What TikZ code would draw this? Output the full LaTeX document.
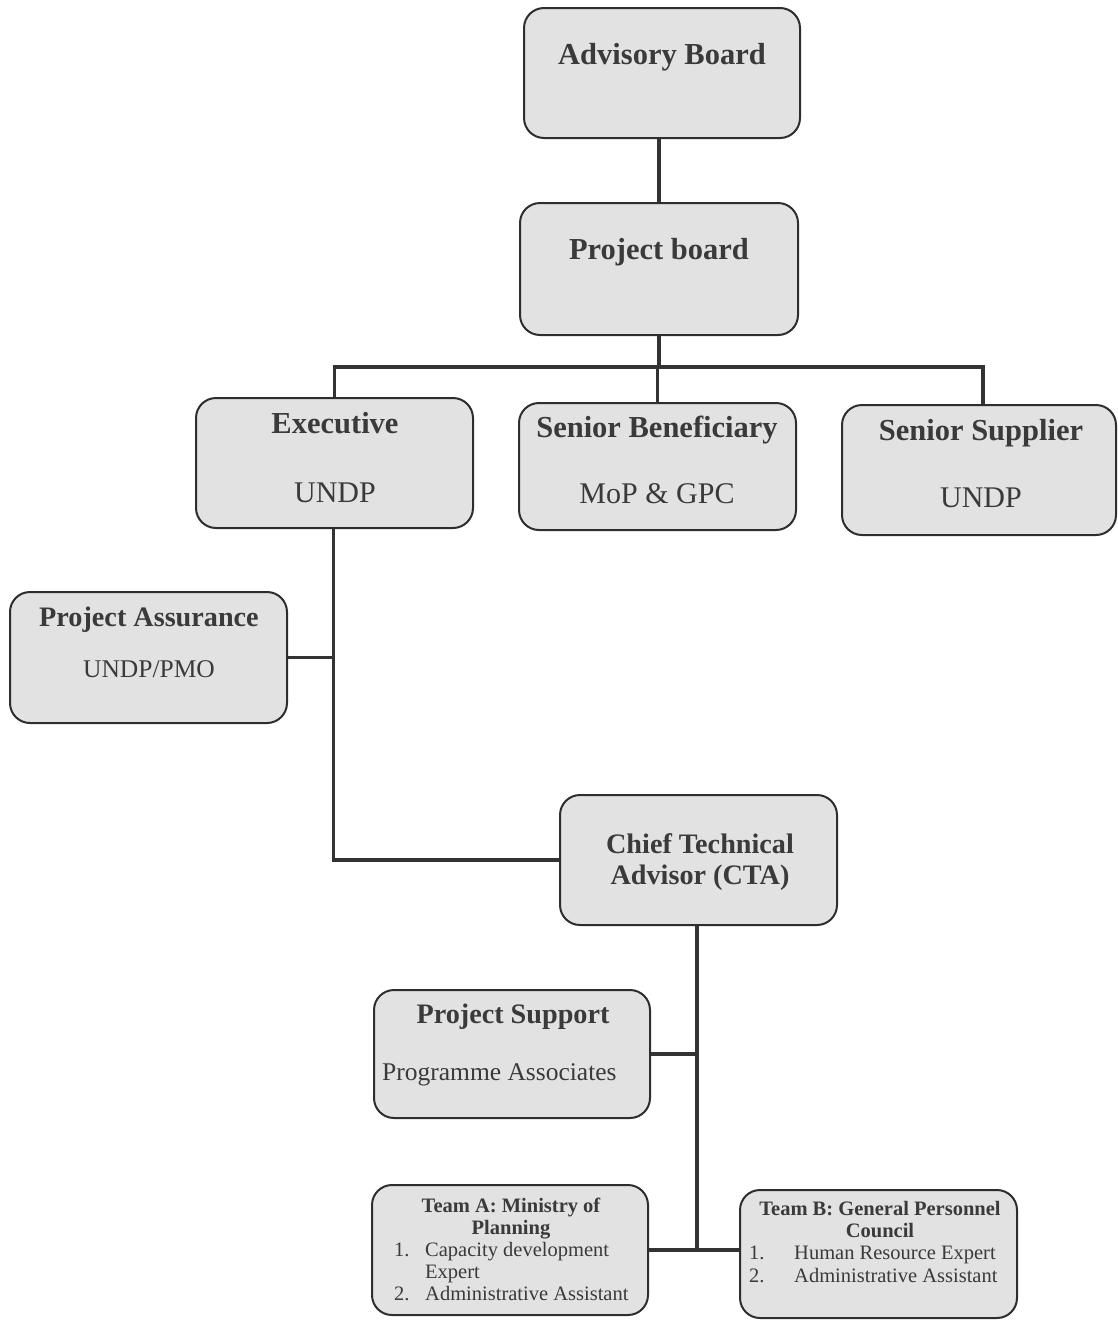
\documentclass[tikz,border=0pt]{standalone}
\usepackage{fontspec}
\setmainfont{Liberation Serif}
\definecolor{boxfill}{HTML}{E2E2E2}
\definecolor{boxline}{HTML}{2E2E2E}
\definecolor{txt}{HTML}{3A3A3A}
\definecolor{conn}{HTML}{333333}
\begin{document}
\begin{tikzpicture}[x=1pt,y=-1pt,
  box/.style={draw=boxline,fill=boxfill,line width=2pt,rounded corners=20pt,inner sep=0pt,rectangle},
  tbig/.style={font=\fontsize{30.5}{34}\selectfont\bfseries,text=txt,inner sep=0pt},
  rbig/.style={font=\fontsize{30}{34}\selectfont,text=txt,inner sep=0pt},
  tmid/.style={font=\fontsize{28.2}{32}\selectfont\bfseries,text=txt,inner sep=0pt},
  rmid/.style={font=\fontsize{25.5}{30}\selectfont,text=txt,inner sep=0pt},
  tsml/.style={font=\fontsize{20.5}{23}\selectfont\bfseries,text=txt,inner sep=0pt},
  rsml/.style={font=\fontsize{20.5}{23}\selectfont,text=txt,inner sep=0pt},
  link/.style={draw=conn,line width=3.5pt}]
\useasboundingbox (0,0) rectangle (1118,1320);

% boxes
\node[box,minimum width=276pt,minimum height=130pt] (adv) at (662,73) {};
\node[box,minimum width=278pt,minimum height=132pt] (pb) at (659,269) {};
\node[box,minimum width=277pt,minimum height=130pt] (exe) at (334.5,463) {};
\node[box,minimum width=277pt,minimum height=127pt] (ben) at (657.5,466.5) {};
\node[box,minimum width=274pt,minimum height=130pt] (sup) at (979,470) {};
\node[box,minimum width=277pt,minimum height=131pt] (pa) at (148.5,657.5) {};
\node[box,minimum width=277pt,minimum height=130pt] (cta) at (698.5,860) {};
\node[box,minimum width=276pt,minimum height=128pt] (ps) at (512,1054) {};
\node[box,minimum width=276pt,minimum height=130pt] (ta) at (510,1250) {};
\node[box,minimum width=277pt,minimum height=128pt] (tb) at (878.5,1254) {};

% texts
\node[tbig,anchor=base] (advT) at (662,64) {Advisory Board};
\node[tbig,anchor=base] (pbT) at (659,259) {Project board};
\node[tbig,anchor=base] (exeT) at (335,433) {Executive};
\node[rbig,anchor=base] (exeS) at (335,502) {UNDP};
\node[tbig,anchor=base] (benT) at (657,437) {Senior Beneficiary};
\node[rbig,anchor=base] (benS) at (657,503) {MoP \& GPC};
\node[tbig,anchor=base] (supT) at (981,440) {Senior Supplier};
\node[rbig,anchor=base] (supS) at (981,507) {UNDP};
\node[tmid,anchor=base] (paT) at (149,626) {Project Assurance};
\node[rmid,anchor=base] (paS) at (149,677) {UNDP/PMO};
\node[tmid,anchor=base] (ctaT1) at (700,853) {Chief Technical};
\node[tmid,anchor=base] (ctaT2) at (700,884) {Advisor (CTA)};
\node[tmid,anchor=base] (psT) at (513,1023) {Project Support};
\node[rmid,anchor=base west] (psS) at (382,1080) {Programme Associates};

\node[tsml,anchor=base] (taT1) at (511,1212) {Team A: Ministry of};
\node[tsml,anchor=base] (taT2) at (511,1234) {Planning};
\node[rsml,anchor=base west] (taN1) at (394,1256) {1.};
\node[rsml,anchor=base west] (taI1) at (425,1256) {Capacity development};
\node[rsml,anchor=base west] (taI1b) at (425,1278) {Expert};
\node[rsml,anchor=base west] (taN2) at (394,1300) {2.};
\node[rsml,anchor=base west] (taI2) at (425,1300) {Administrative Assistant};

\node[tsml,anchor=base] (tbT1) at (880,1215) {Team B: General Personnel};
\node[tsml,anchor=base] (tbT2) at (880,1237) {Council};
\node[rsml,anchor=base west] (tbN1) at (749,1259) {1.};
\node[rsml,anchor=base west] (tbI1) at (794,1259) {Human Resource Expert};
\node[rsml,anchor=base west] (tbN2) at (749,1282) {2.};
\node[rsml,anchor=base west] (tbI2) at (794,1282) {Administrative Assistant};

% connectors
\coordinate (bus) at (659,367);
\coordinate (tjoin) at (697,1250);
\draw[link] (adv.south -| pb.north) -- (pb.north);
\draw[link] (pb.south) -- (pb.south |- bus);
\draw[link] (exe.north) -- (exe.north |- bus) -- ([xshift=4pt]sup.north |- bus) -- ([xshift=4pt]sup.north);
\draw[link] (ben.north) -- (ben.north |- bus);
\draw[link] ([xshift=-1pt]exe.south) |- (cta.west);
\draw[link] (pa.east) -- ([xshift=-1pt]pa.east -| exe.south);
\draw[link] ([xshift=-1.5pt]cta.south) -- ([xshift=-1.5pt]cta.south |- tjoin);
\draw[link] (ps.east) -- ([xshift=-1.5pt]ps.east -| cta.south);
\draw[link] (ta.east) -- (ta.east -| tb.west);
\end{tikzpicture}
\end{document}
